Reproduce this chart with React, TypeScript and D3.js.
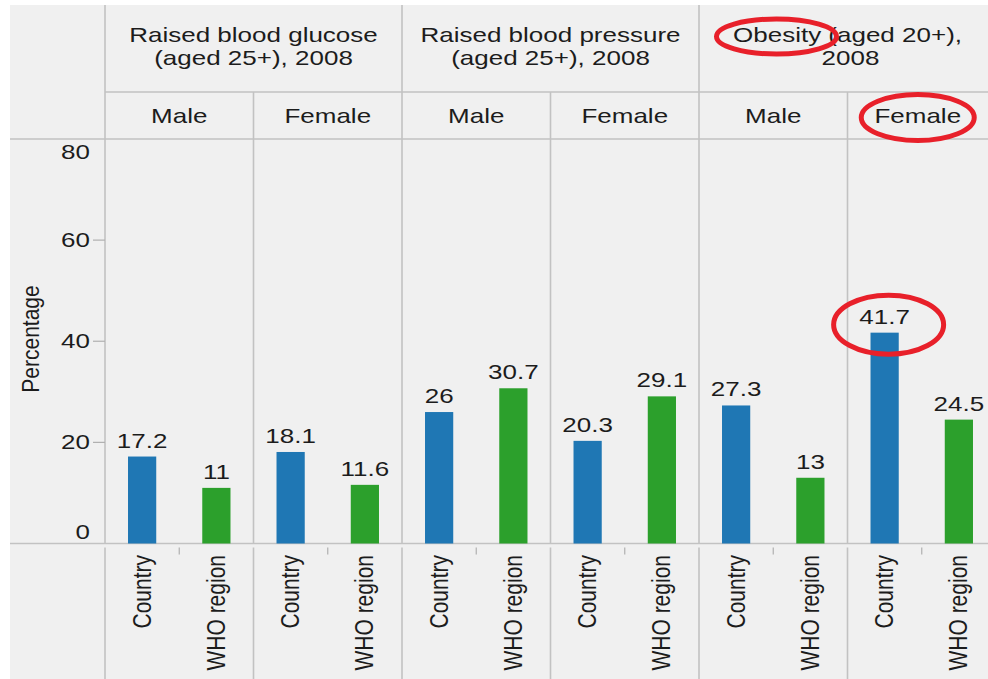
import React from "react";
import * as d3 from "d3";

// ---- data ----
const measureLines: string[][] = [
  ["Raised blood glucose", "(aged 25+), 2008"],
  ["Raised blood pressure", "(aged 25+), 2008"],
  ["Obesity (aged 20+),", "2008"],
];
const sexes = ["Male", "Female"];
const sources = ["Country", "WHO region"];
// order: glucose M, glucose F, pressure M, pressure F, obesity M, obesity F
const countryValues = [17.2, 18.1, 26, 20.3, 27.3, 41.7];
const whoRegionValues = [11, 11.6, 30.7, 29.1, 13, 24.5];
const yTicks = [0, 20, 40, 60, 80];
const yTitle = "Percentage";

// ---- layout ----
const W = 988;
const H = 679;
const LEFT = 10;
const TOP = 5;
const PLOT_LEFT = 105;
const HEAD_MID = 92;
const PLOT_TOP = 139;
const PLOT_BOTTOM = 543.5;
const PANEL_W = 148.5;
const SX = 1.3;
const FONT = "'Liberation Sans', Arial, sans-serif";
const TXT = "#1c1c1c";
const GRID = "#c2c2c2";
const BLUE = "#1f77b4";
const GREEN = "#2ca02c";
const RED = "#e8202a";

const T = ({ x, y, s = SX, size = 20, anchor = "middle", rot = 0, children }: any) => (
  <g transform={`translate(${x},${y}) scale(${s},1)${rot ? ` rotate(${rot})` : ""}`}>
    <text textAnchor={anchor} fontSize={size} fontFamily={FONT} fill={TXT}>
      {children}
    </text>
  </g>
);

export default function App() {
  const panels = d3.range(6);
  const x0 = d3.scaleBand<number>().domain(panels).range([PLOT_LEFT, PLOT_LEFT + 6 * PANEL_W]);
  const x1 = d3
    .scaleBand<string>()
    .domain(sources)
    .range([0, x0.bandwidth()])
    .paddingInner(0.62)
    .paddingOuter(0.31);
  const y = d3.scaleLinear().domain([0, 80]).range([PLOT_BOTTOM, PLOT_TOP]);

  const bars = panels.flatMap((p) => [
    { p, src: sources[0], v: countryValues[p], color: BLUE },
    { p, src: sources[1], v: whoRegionValues[p], color: GREEN },
  ]);
  const cx = (p: number, src: string) => (x0(p) as number) + (x1(src) as number) + x1.bandwidth() / 2;
  const panelCenter = (p: number) => (x0(p) as number) + x0.bandwidth() / 2;
  const groupCenter = (g: number) => (x0(2 * g) as number) + x0.bandwidth();

  const tickLabelY = (v: number) => Math.max(PLOT_TOP + 20, Math.min(PLOT_BOTTOM - 4.5, y(v) + 7));

  // annotation positions derived from marks
  const obesityFemaleCountry = cx(5, sources[0]);

  return (
    <svg width={W} height={H} style={{ position: "absolute", left: 0, top: 0, background: "#fff" }}>
      <rect x={LEFT} y={TOP} width={W - LEFT} height={H - TOP} fill="#f0f0f0" />

      {/* grid lines */}
      <g stroke={GRID} strokeWidth={1.6}>
        <line x1={PLOT_LEFT} x2={W} y1={HEAD_MID} y2={HEAD_MID} />
        <line x1={LEFT} x2={W} y1={PLOT_TOP} y2={PLOT_TOP} />
        <line x1={LEFT} x2={W} y1={PLOT_BOTTOM} y2={PLOT_BOTTOM} />
        {panels.map((p) => {
          const xx = x0(p) as number;
          const major = p % 2 === 0;
          return (
            <g key={p}>
              <line x1={xx} x2={xx} y1={major ? TOP : HEAD_MID} y2={PLOT_BOTTOM} />
              <line x1={xx} x2={xx} y1={PLOT_BOTTOM + 4} y2={H} />
            </g>
          );
        })}
      </g>
      {/* small ticks between categories */}
      <g stroke="#b0b0b0" strokeWidth={1.2}>
        {panels.map((p) => (
          <line key={p} x1={panelCenter(p)} x2={panelCenter(p)} y1={PLOT_BOTTOM + 4} y2={PLOT_BOTTOM + 11} />
        ))}
        {yTicks
          .filter((v) => v !== 0 && v !== 80)
          .map((v) => (
            <line key={v} x1={93} x2={PLOT_LEFT} y1={y(v)} y2={y(v)} />
          ))}
      </g>

      {/* headers */}
      {measureLines.map((lines, g) => (
        <g key={g}>
          <T x={groupCenter(g)} y={42}>{lines[0]}</T>
          <T x={groupCenter(g) + (g === 2 ? 3 : 0)} y={65}>{lines[1]}</T>
        </g>
      ))}
      {panels.map((p) => (
        <T key={p} x={panelCenter(p) - (p === 5 ? 4 : 0)} y={123}>{sexes[p % 2]}</T>
      ))}

      {/* y axis */}
      {yTicks.map((v) => (
        <T key={v} x={90} y={tickLabelY(v)} anchor="end">{String(v)}</T>
      ))}
      <T x={38.5} y={339} s={1.1} size={21} rot={-90}>{yTitle}</T>

      {/* bars */}
      {bars.map((b, i) => (
        <g key={i}>
          <rect
            x={(x0(b.p) as number) + (x1(b.src) as number)}
            y={y(b.v)}
            width={x1.bandwidth()}
            height={y(0) - y(b.v)}
            fill={b.color}
          />
          <T x={cx(b.p, b.src)} y={y(b.v) - 9}>{String(b.v)}</T>
        </g>
      ))}

      {/* category labels */}
      {panels.flatMap((p) =>
        sources.map((s) => (
          <T key={p + s} x={cx(p, s) + 8.5} y={555} s={1.2} size={21} anchor="end" rot={-90}>{s}</T>
        ))
      )}

      {/* red annotation ellipses */}
      <g fill="none" stroke={RED} strokeWidth={5}>
        <ellipse cx={groupCenter(2) - 71} cy={36.5} rx={60} ry={17.5} />
        <ellipse cx={panelCenter(5) - 4} cy={117.5} rx={56.5} ry={23} />
        <ellipse cx={obesityFemaleCountry + 4} cy={y(41.7) - 8} rx={55} ry={29.5} />
      </g>
    </svg>
  );
}
